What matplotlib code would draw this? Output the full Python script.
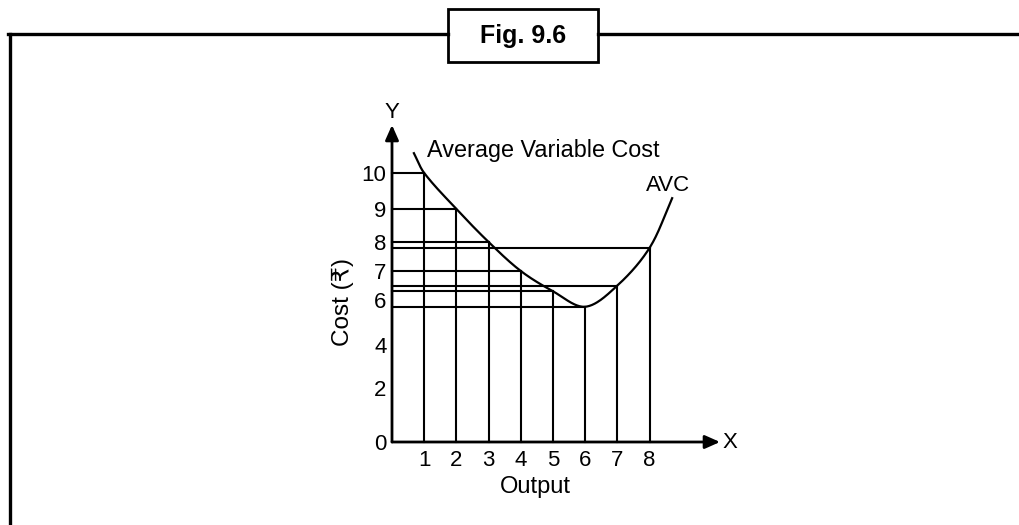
import numpy as np
import matplotlib
matplotlib.use('Agg')
import matplotlib.pyplot as plt
from matplotlib.lines import Line2D
from matplotlib.patches import Rectangle

plt.rcParams['font.family'] = ['Liberation Sans', 'DejaVu Sans']

# values
output = [1, 2, 3, 4, 5, 6, 7, 8]
avc = [10, 9, 8, 7, 6.3, 5.7, 6.5, 7.8]
curve_start = (0.68, 10.55)   # where the drawn curve begins / ends
curve_end = (8.7, 9.3)
y_ticks = [0, 2, 4, 6, 7, 8, 9, 10]
x_ticks = output

# the printed cost axis is not evenly spaced -> piecewise scale
scale_vals = [0, 2, 4, 6, 7, 8, 9, 10, 12]
scale_hts = [0, 54, 97, 142, 171, 200, 233, 269, 341]


def fwd(v):
    return np.interp(v, scale_vals, scale_hts)


def inv(h):
    return np.interp(h, scale_hts, scale_vals)


def smooth(P, n=40):
    # chord-length cubic hermite through the points
    d = np.sqrt(((P[1:] - P[:-1]) ** 2).sum(1))
    t = np.concatenate([[0], np.cumsum(d)])
    m = np.zeros_like(P)
    m[0] = (P[1] - P[0]) / d[0]
    m[-1] = (P[-1] - P[-2]) / d[-1]
    for i in range(1, len(P) - 1):
        m[i] = (P[i + 1] - P[i - 1]) / (t[i + 1] - t[i - 1])
    s = np.linspace(0, 1, n)[:, None]
    h00 = 2 * s**3 - 3 * s**2 + 1
    h10 = s**3 - 2 * s**2 + s
    h01 = -2 * s**3 + 3 * s**2
    h11 = s**3 - s**2
    out = []
    for i in range(len(P) - 1):
        h = d[i]
        out.append(h00 * P[i] + h10 * h * m[i] + h01 * P[i + 1] + h11 * h * m[i + 1])
    return np.vstack(out)


W, H = 1020, 525
XU = 32.2  # pixels per output unit
fig = plt.figure(figsize=(10.2, 5.25), dpi=100)


def px(x, y):
    return (x / W, 1 - y / H)


ax = fig.add_axes([392 / W, (H - 442) / H, 10 * XU / W, 341 / H])
ax.set_xlim(0, 10)
ax.set_yscale('function', functions=(fwd, inv))
ax.set_ylim(0, 12)
for s in ax.spines.values():
    s.set_visible(False)

# grid of lines from the axes up to the curve
for k, v in zip(output, avc):
    ax.plot([0, k], [v, v], color='k', lw=1.5, clip_on=False)
    ax.plot([k, k], [0, v], color='k', lw=1.5, clip_on=False)

# smooth AVC curve, built in screen space
pts = np.array([[curve_start[0] * XU, fwd(curve_start[1])]]
               + [[k * XU, fwd(v)] for k, v in zip(output, avc)]
               + [[curve_end[0] * XU, fwd(curve_end[1])]])
c = smooth(pts)
ax.plot(c[:, 0] / XU, inv(c[:, 1]), color='k', lw=1.6, clip_on=False)

# axes with arrows
arrow = dict(arrowstyle='-|>,head_length=0.9,head_width=0.4', color='k',
             lw=2, shrinkA=0, shrinkB=0)
ax.annotate('', xy=(0, inv(317)), xytext=(0, 0), arrowprops=arrow,
            annotation_clip=False)
ax.annotate('', xy=(328 / XU, 0), xytext=(0, 0), arrowprops=arrow,
            annotation_clip=False)

ax.set_yticks(y_ticks)
ax.set_yticklabels([str(v) for v in y_ticks], fontsize=16)
ax.set_xticks(x_ticks)
ax.set_xticklabels([str(v) for v in x_ticks], fontsize=16)
ax.tick_params(length=0)
ax.tick_params(axis='y', pad=4)
ax.tick_params(axis='x', pad=6)
ax.minorticks_off()

fig.text(*px(392, 112), 'Y', fontsize=16, ha='center', va='center')
fig.text(*px(730, 442), 'X', fontsize=16, ha='center', va='center')
fig.text(*px(427, 150), 'Average Variable Cost', fontsize=16.8, ha='left', va='center')
fig.text(*px(668, 185), 'AVC', fontsize=16, ha='center', va='center')
fig.text(*px(343, 302), 'Cost (₹)', fontsize=17.5, ha='center', va='center', rotation=90)
fig.text(*px(535, 487), 'Output', fontsize=17, ha='center', va='center')

# figure frame and caption box
fig.add_artist(Line2D([8 / W, 448 / W], [1 - 34 / H] * 2, color='k', lw=2.4))
fig.add_artist(Line2D([598 / W, 1], [1 - 34 / H] * 2, color='k', lw=2.4))
fig.add_artist(Line2D([10 / W] * 2, [1 - 34 / H, 0], color='k', lw=2.4))
fig.add_artist(Rectangle(px(448, 62), 150 / W, 53 / H, fill=False,
                         ec='k', lw=2, transform=fig.transFigure))
fig.text(*px(523, 36), 'Fig. 9.6', fontsize=18, fontweight='bold',
         ha='center', va='center')

fig.savefig('out.png', dpi=100)
